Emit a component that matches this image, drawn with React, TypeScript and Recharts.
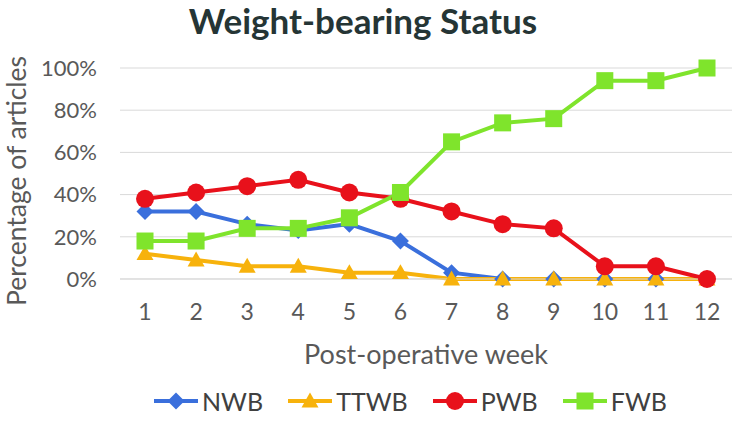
import React from "react";
import { LineChart, Line, XAxis, YAxis, CartesianGrid, Legend, Label } from "recharts";

const weeks = ["1", "2", "3", "4", "5", "6", "7", "8", "9", "10", "11", "12"];
const nwb = [32, 32, 26, 23, 26, 18, 3, 0, 0, 0, 0, 0];
const ttwb = [12, 9, 6, 6, 3, 3, 0, 0, 0, 0, 0, 0];
const pwb = [38, 41, 44, 47, 41, 38, 32, 26, 24, 6, 6, 0];
const fwb = [18, 18, 24, 24, 29, 41, 65, 74, 76, 94, 94, 100];
const yTicks = [0, 20, 40, 60, 80, 100];

const data = weeks.map((w, i) => ({ week: w, NWB: nwb[i], TTWB: ttwb[i], PWB: pwb[i], FWB: fwb[i] }));

const C_NWB = "#3a6fdc";
const C_TTWB = "#f7b20c";
const C_PWB = "#e8111b";
const C_FWB = "#7fe42c";
const FONT = "Lato, 'Open Sans', sans-serif";
const GREY = "#595959";

function Marker({ kind, cx, cy, color }: { kind: string; cx: number; cy: number; color: string }) {
  if (kind === "diamond") {
    const r = 8.5;
    return <path d={`M${cx},${cy - r}L${cx + r},${cy}L${cx},${cy + r}L${cx - r},${cy}Z`} fill={color} />;
  }
  if (kind === "triangle") {
    const r = 8.5;
    return <path d={`M${cx},${cy - r}L${cx + r},${cy + r * 0.75}L${cx - r},${cy + r * 0.75}Z`} fill={color} />;
  }
  if (kind === "circle") {
    return <circle cx={cx} cy={cy} r={9} fill={color} />;
  }
  return <rect x={cx - 8.5} y={cy - 8.5} width={17} height={17} fill={color} />;
}

const makeDot = (kind: string, color: string) => (props: any) => {
  const { cx, cy, index } = props;
  return <Marker key={`${kind}-${index}`} kind={kind} cx={cx} cy={cy} color={color} />;
};

const legendItems = [
  { name: "NWB", color: C_NWB, kind: "diamond" },
  { name: "TTWB", color: C_TTWB, kind: "triangle" },
  { name: "PWB", color: C_PWB, kind: "circle" },
  { name: "FWB", color: C_FWB, kind: "square" },
];

const LegendContent = () => (
  <div style={{ display: "flex", paddingLeft: 152, fontFamily: FONT, fontSize: 25, color: "#404040", lineHeight: "24px" }}>
    {legendItems.map((it) => (
      <div key={it.name} style={{ display: "flex", alignItems: "center", marginRight: 23 }}>
        <svg width={48} height={24}>
          <line x1={2} y1={12} x2={46} y2={12} stroke={it.color} strokeWidth={4} />
          <Marker kind={it.kind} cx={24} cy={12} color={it.color} />
        </svg>
        <span style={{ marginLeft: 2 }}>{it.name}</span>
      </div>
    ))}
  </div>
);

const YLabel = () => (
  <text
    transform="translate(16,181) rotate(-90)"
    textAnchor="middle"
    dominantBaseline="central"
    fill={GREY}
    fontSize={26.5}
    fontFamily={FONT}
  >
    Percentage of articles
  </text>
);

const XLabel = () => (
  <text x={426} y={353} textAnchor="middle" dominantBaseline="central" fill={GREY} fontSize={27} fontFamily={FONT}>
    Post-operative week
  </text>
);

export default function App() {
  return (
    <div style={{ position: "absolute", left: 0, top: 0, width: 740, height: 421, background: "#fff" }}>
      <div
        style={{
          position: "absolute",
          left: 0,
          top: 0,
          width: 726,
          textAlign: "center",
          fontFamily: FONT,
          fontWeight: 700,
          fontSize: 35,
          color: "#253535",
          lineHeight: "40px",
          zIndex: 2,
        }}
      >
        Weight-bearing Status
      </div>
      <LineChart width={740} height={421} data={data} margin={{ top: 68, right: 8, bottom: 0, left: 0 }}>
        <CartesianGrid vertical={false} stroke="#d9d9d9" strokeWidth={1} />
        <XAxis
          dataKey="week"
          padding={{ left: 25, right: 25 }}
          axisLine={{ stroke: "#d9d9d9" }}
          tickLine={false}
          tick={{ fill: GREY, fontSize: 23, fontFamily: FONT }}
          tickMargin={19}
          height={118}
        >
          <Label content={<XLabel />} />
        </XAxis>
        <YAxis
          domain={[0, 100]}
          ticks={yTicks}
          tickFormatter={(v: number) => `${v}%`}
          axisLine={false}
          tickLine={false}
          tick={{ fill: GREY, fontSize: 22, fontFamily: FONT }}
          width={120}
          tickMargin={17}
        >
          <Label content={<YLabel />} />
        </YAxis>
        <Legend wrapperStyle={{ position: "absolute", top: 389, left: 0, width: 740, height: 24 }} content={<LegendContent />} />
        <Line dataKey="NWB" stroke={C_NWB} strokeWidth={4} dot={makeDot("diamond", C_NWB)} isAnimationActive={false} />
        <Line dataKey="TTWB" stroke={C_TTWB} strokeWidth={4} dot={makeDot("triangle", C_TTWB)} isAnimationActive={false} />
        <Line dataKey="PWB" stroke={C_PWB} strokeWidth={4} dot={makeDot("circle", C_PWB)} isAnimationActive={false} />
        <Line dataKey="FWB" stroke={C_FWB} strokeWidth={4} dot={makeDot("square", C_FWB)} isAnimationActive={false} />
      </LineChart>
    </div>
  );
}
